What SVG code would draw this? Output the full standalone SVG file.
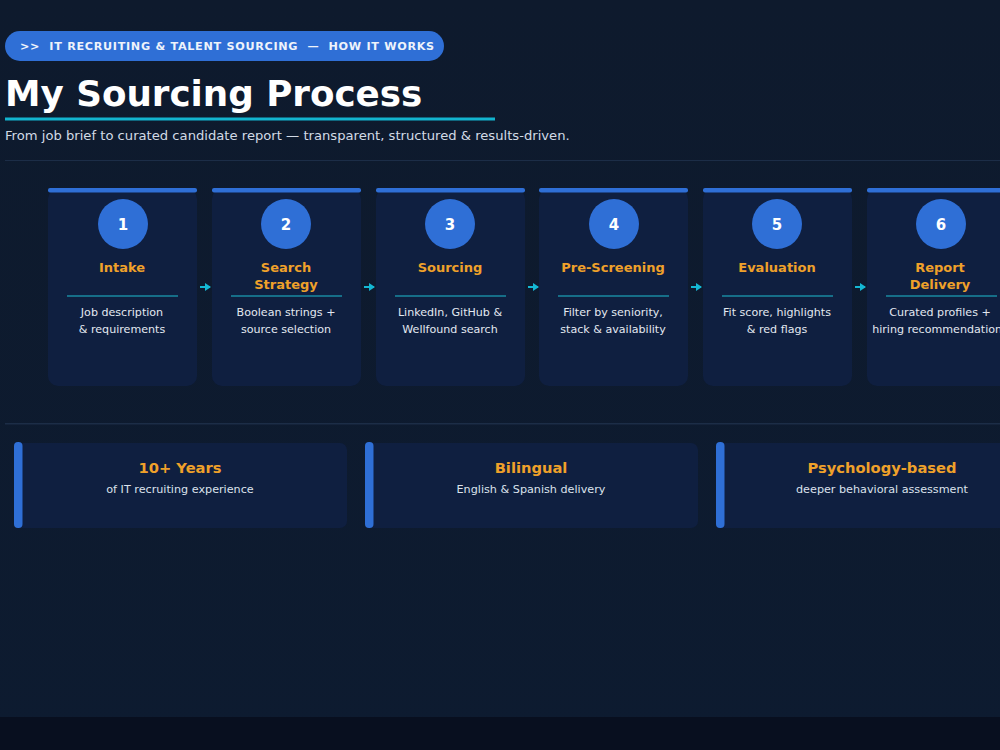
<svg xmlns="http://www.w3.org/2000/svg" width="1000" height="750" viewBox="0 0 1000 750">
<defs>
<linearGradient id="bg" x1="0" y1="0" x2="0" y2="1">
<stop offset="0" stop-color="#0e1a2d"/>
<stop offset="1" stop-color="#0d1b30"/>
</linearGradient>
<marker id="ah" viewBox="0 0 6 8" refX="5" refY="4" markerWidth="6" markerHeight="8" markerUnits="userSpaceOnUse" orient="auto">
<path d="M0,0 L6,4 L0,8 Z" fill="#14b8d4"/>
</marker>
<style>
.sans{font-family:"DejaVu Sans","Liberation Sans",sans-serif}
.card{fill:#0f1f40}
.bar{fill:#2f6fd6}
.num{font-family:"DejaVu Sans",sans-serif;font-weight:bold;font-size:15px;fill:#ffffff;text-anchor:middle}
.ttl{font-family:"DejaVu Sans",sans-serif;font-weight:bold;font-size:13px;fill:#efa12a;text-anchor:middle}
.dsc{font-family:"DejaVu Sans",sans-serif;font-size:11.1px;fill:#e2e8f0;text-anchor:middle}
.sep{stroke:#1a8aa0;stroke-width:1.5}
.conn{stroke:#14b8d4;stroke-width:2;fill:none}
.ftitle{font-family:"DejaVu Sans",sans-serif;font-weight:bold;font-size:14.7px;fill:#efa12a;text-anchor:middle}
.fdsc{font-family:"DejaVu Sans",sans-serif;font-size:11.2px;fill:#dbe2ec;text-anchor:middle}
</style>
</defs>
<rect width="1000" height="750" fill="url(#bg)"/>
<rect x="0" y="717" width="1000" height="33" fill="#080f1f"/>

<g id="header">
<rect x="5" y="31" width="439" height="30" rx="15" fill="#2f6fd6"/>
<text x="20" y="50" class="sans" font-size="11.2" font-weight="bold" fill="#eef3fb" letter-spacing="0.7" xml:space="preserve" style="white-space:pre">&gt;&gt;  IT RECRUITING &amp; TALENT SOURCING  —  HOW IT WORKS</text>
<text x="5" y="106" class="sans" font-size="35.7" font-weight="bold" fill="#ffffff">My Sourcing Process</text>
<rect x="5" y="117.5" width="490" height="3" fill="#12b4cf"/>
<text x="5" y="140" class="sans" font-size="13.15" fill="#d2dae6">From job brief to curated candidate report — transparent, structured &amp; results-driven.</text>
<rect x="5" y="160" width="995" height="1" fill="#1c2d47"/>
<rect x="5" y="423" width="995" height="1.5" fill="#1c2d47"/>
</g>

<g id="connectors">
<line class="conn" x1="200" y1="287" x2="210" y2="287" marker-end="url(#ah)"/>
<line class="conn" x1="364" y1="287" x2="374" y2="287" marker-end="url(#ah)"/>
<line class="conn" x1="528" y1="287" x2="538" y2="287" marker-end="url(#ah)"/>
<line class="conn" x1="691" y1="287" x2="701" y2="287" marker-end="url(#ah)"/>
<line class="conn" x1="855" y1="287" x2="865" y2="287" marker-end="url(#ah)"/>
</g>

<g id="step1">
<rect class="card" x="48" y="189" width="149" height="197" rx="10"/>
<rect class="bar" x="48" y="188" width="149" height="4.5" rx="2"/>
<circle cx="123" cy="224" r="25" fill="#2f6fd6"/>
<text class="num" x="123" y="230">1</text>
<text class="ttl" x="122" y="272">Intake</text>
<line class="sep" x1="67" y1="296" x2="178" y2="296"/>
<text class="dsc" x="122" y="316">Job description</text>
<text class="dsc" x="122" y="333">&amp; requirements</text>
</g>

<g id="step2">
<rect class="card" x="212" y="189" width="149" height="197" rx="10"/>
<rect class="bar" x="212" y="188" width="149" height="4.5" rx="2"/>
<circle cx="286" cy="224" r="25" fill="#2f6fd6"/>
<text class="num" x="286" y="230">2</text>
<text class="ttl" x="286" y="272">Search</text>
<text class="ttl" x="286" y="289">Strategy</text>
<line class="sep" x1="231" y1="296" x2="342" y2="296"/>
<text class="dsc" x="286" y="316">Boolean strings +</text>
<text class="dsc" x="286" y="333">source selection</text>
</g>

<g id="step3">
<rect class="card" x="376" y="189" width="149" height="197" rx="10"/>
<rect class="bar" x="376" y="188" width="149" height="4.5" rx="2"/>
<circle cx="450" cy="224" r="25" fill="#2f6fd6"/>
<text class="num" x="450" y="230">3</text>
<text class="ttl" x="450" y="272">Sourcing</text>
<line class="sep" x1="395" y1="296" x2="506" y2="296"/>
<text class="dsc" x="450" y="316">LinkedIn, GitHub &amp;</text>
<text class="dsc" x="450" y="333">Wellfound search</text>
</g>

<g id="step4">
<rect class="card" x="539" y="189" width="149" height="197" rx="10"/>
<rect class="bar" x="539" y="188" width="149" height="4.5" rx="2"/>
<circle cx="614" cy="224" r="25" fill="#2f6fd6"/>
<text class="num" x="614" y="230">4</text>
<text class="ttl" x="613" y="272">Pre-Screening</text>
<line class="sep" x1="558" y1="296" x2="669" y2="296"/>
<text class="dsc" x="613" y="316">Filter by seniority,</text>
<text class="dsc" x="613" y="333">stack &amp; availability</text>
</g>

<g id="step5">
<rect class="card" x="703" y="189" width="149" height="197" rx="10"/>
<rect class="bar" x="703" y="188" width="149" height="4.5" rx="2"/>
<circle cx="777" cy="224" r="25" fill="#2f6fd6"/>
<text class="num" x="777" y="230">5</text>
<text class="ttl" x="777" y="272">Evaluation</text>
<line class="sep" x1="722" y1="296" x2="833" y2="296"/>
<text class="dsc" x="777" y="316">Fit score, highlights</text>
<text class="dsc" x="777" y="333">&amp; red flags</text>
</g>

<g id="step6">
<rect class="card" x="867" y="189" width="149" height="197" rx="10"/>
<rect class="bar" x="867" y="188" width="149" height="4.5" rx="2"/>
<circle cx="941" cy="224" r="25" fill="#2f6fd6"/>
<text class="num" x="941" y="230">6</text>
<text class="ttl" x="940" y="272">Report</text>
<text class="ttl" x="940" y="289">Delivery</text>
<line class="sep" x1="886" y1="296" x2="997" y2="296"/>
<text class="dsc" x="940" y="316">Curated profiles +</text>
<text class="dsc" x="940" y="333">hiring recommendations</text>
</g>

<g id="fact1">
<rect class="card" x="14" y="443" width="333" height="85" rx="7"/>
<rect class="bar" x="14" y="442" width="8.5" height="86" rx="4"/>
<text class="ftitle" x="180" y="473">10+ Years</text>
<text class="fdsc" x="180" y="493">of IT recruiting experience</text>
</g>

<g id="fact2">
<rect class="card" x="365" y="443" width="333" height="85" rx="7"/>
<rect class="bar" x="365" y="442" width="8.5" height="86" rx="4"/>
<text class="ftitle" x="531" y="473">Bilingual</text>
<text class="fdsc" x="531" y="493">English &amp; Spanish delivery</text>
</g>

<g id="fact3">
<rect class="card" x="716" y="443" width="333" height="85" rx="7"/>
<rect class="bar" x="716" y="442" width="8.5" height="86" rx="4"/>
<text class="ftitle" x="882" y="473">Psychology-based</text>
<text class="fdsc" x="882" y="493">deeper behavioral assessment</text>
</g>
</svg>
